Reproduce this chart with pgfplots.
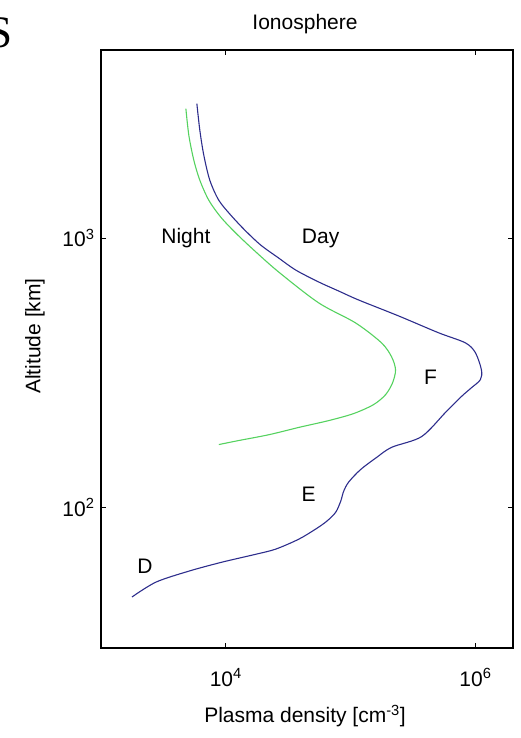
\documentclass[border=0pt]{standalone}
\usepackage{pgfplots}
\pgfplotsset{compat=1.18}
\usepackage{fontspec}
\setmainfont{Liberation Sans}
\newfontfamily\seriffont{Liberation Serif}
\definecolor{dayblue}{RGB}{45,45,140}
\definecolor{nightgreen}{RGB}{85,210,95}
\newcommand{\lab}{\fontsize{21}{25}\selectfont}
\begin{document}
\begin{tikzpicture}[x=1pt,y=1pt]
\useasboundingbox (0,0) rectangle (520,738);
\clip (0,0) rectangle (520,738);
\begin{axis}[
  at={(101pt,90pt)}, anchor=south west,
  scale only axis, width=412pt, height=598pt,
  xmode=log, ymode=log,
  xmin=1e3, xmax=2e6, ymin=30, ymax=5000,
  xtick={1e4,1e6}, xticklabels={10\textsuperscript{4},10\textsuperscript{6}},
  ytick={1e2,1e3}, yticklabels={10\textsuperscript{2},10\textsuperscript{3}},
  minor tick length=0pt, minor tick style={draw=none},
  tick align=inside, major tick length=5pt,
  tick style={black, line width=0.9pt},
  axis line style={black, line width=1.1pt},
  ticklabel style={font=\lab},
  xticklabel style={yshift=-17pt},
  yticklabel style={xshift=-3pt},
  clip=false,
]
\addplot[dayblue, line width=1.1pt, smooth, tension=0.5] coordinates {
(5861,3162) (6194,2512) (6668,2029) (7447,1640) (8790,1382) (10965,1217)
(14191,1071) (19055,942) (26546,843) (36300,761) (55500,687) (80200,636)
(115900,589) (242000,514) (506000,445) (832000,408) (1000000,375)
(1117000,324) (1096000,298) (929000,278) (773000,258) (575000,225) (370000,183)
(213000,167) (161000,153) (120000,138) (96400,124) (87900,114.6) (83200,105.2)
(75900,95.8) (64300,88.7) (52500,83.0) (38400,76.1) (25100,69.9) (17400,66.9)
(9290,62.5) (5058,57.9) (2754,52.7) (1770,46.4)
};
\addplot[nightgreen, line width=1.1pt, smooth, tension=0.5] coordinates {
(4786,3027) (5058,2404) (5546,1945) (6194,1640) (7311,1382) (9120,1196)
(12023,1044) (16749,903) (26546,748) (55500,574.5) (109600,484)
(177000,408) (213000,362) (229000,324) (216800,290) (190500,262) (152800,240.7)
(105700,222.9) (66700,209.9) (38400,198) (22100,186) (12700,177) (8790,171)
};
\node[font=\lab] at (axis cs:4786,1000) {Night};
\node[font=\lab] at (axis cs:57500,1000) {Day};
\node[font=\lab] at (axis cs:437000,303) {F};
\node[font=\lab] at (axis cs:46000,112) {E};
\node[font=\lab] at (axis cs:2250,60.4) {D};
\end{axis}
\node[font=\lab, anchor=base] at (305,708) {Ionosphere};
\node[font=\lab, anchor=base] at (305,15) {Plasma density [cm\textsuperscript{-3}]};
\node[font=\lab, rotate=90] at (35,402) {Altitude [km]};
\node[font=\seriffont\fontsize{45}{50}\selectfont, anchor=base east, inner sep=0pt] at (13,690) {S};
\end{tikzpicture}
\end{document}
